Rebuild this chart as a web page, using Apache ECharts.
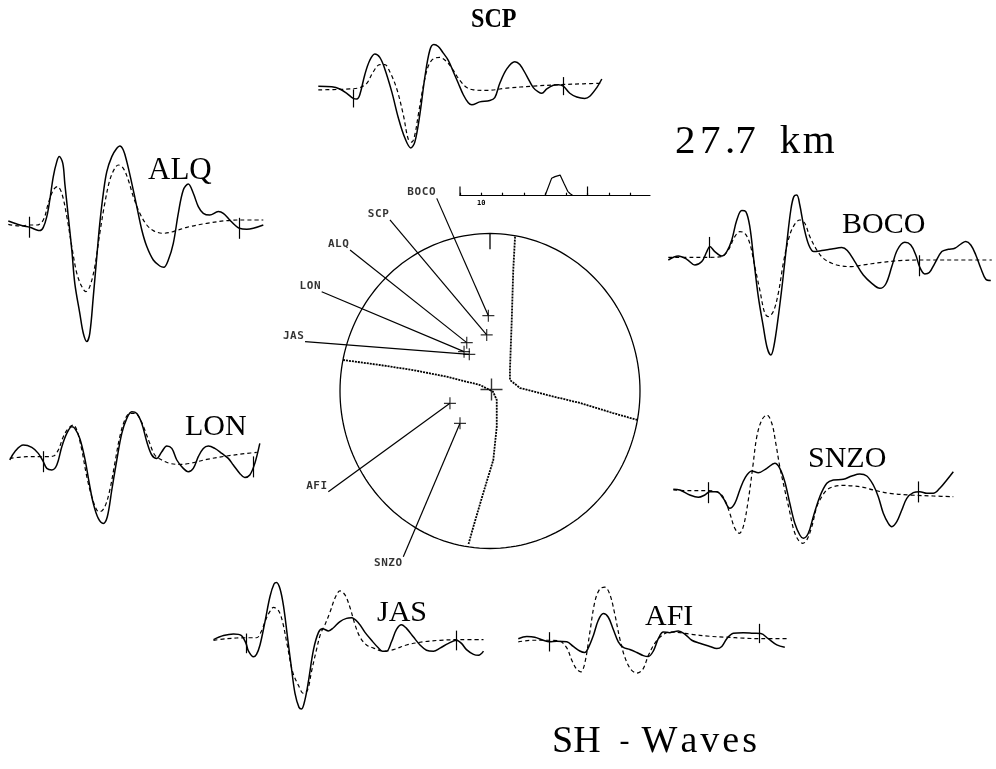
<!DOCTYPE html>
<html>
<head>
<meta charset="utf-8">
<script src="https://cdn.jsdelivr.net/npm/echarts@6/dist/echarts.min.js"></script>
<style>
html,body{margin:0;padding:0;background:#fff}
#chart{width:996px;height:769px}
</style>
</head>
<body>
<div id="chart"></div>
<script>
// ---- Station order ----
const stations = ['SCP', 'ALQ', 'BOCO', 'LON', 'SNZO', 'JAS', 'AFI'];

// ---- SH seismograms: [time (s), relative displacement]; obs = recorded, syn = synthetic ----
const obsSCP = [[-7,0],[-4.3,-0.07],[-2.7,-0.33],[-1.3,-0.83],[0,-1.43],[0.7,-1.5],[1.3,-1],[2.3,1.33],[3.3,3],[4.3,3.73],[5.3,3.33],[6.3,2],[7.7,-0.67],[9,-3.67],[10.3,-6],[11.5,-7.17],[12.3,-6.5],[13.3,-3.33],[14.3,1],[15.3,4.17],[16.1,4.83],[17,4.6],[18,3.83],[19,3],[20,1.67],[21,0.33],[22,-1],[23,-1.93],[23.7,-2.17],[25.3,-1.83],[27.3,-1.67],[28.3,-1.33],[29.3,0.33],[30.7,2],[32.3,2.83],[33.3,2.5],[34.7,1.17],[36,-0.17],[37,-0.67],[37.7,-0.83],[38.7,-0.33],[40,0.1],[41,0.17],[42,0],[43.3,-0.83],[44.7,-1.27],[46.3,-1.43],[47.3,-1.17],[48.7,-0.17],[49.7,0.83]];
const synSCP = [[-7,-0.43],[-4,-0.4],[-0.7,-0.33],[1.3,-0.17],[2.7,0.33],[4,1.67],[5.3,2.5],[6.3,2.5],[7.3,1.67],[8.7,-0.33],[10,-3.33],[11,-6.17],[11.7,-6.5],[12.3,-5.67],[13,-3.33],[14,0],[15,2.33],[16,3.17],[17.3,3.33],[18.7,2.83],[20,1.83],[21.3,0.67],[22.7,-0.17],[24,-0.43],[26.7,-0.5],[30.7,-0.23],[36,0],[41.3,0.17],[46,0.27],[49.7,0.33]];

const obsALQ = [[-4.2,0.23],[-2.5,-0.07],[-1.2,-0.27],[0.1,-0.4],[1.5,-0.67],[2.1,-0.73],[2.8,-0.4],[3.5,0.67],[4.1,2.33],[4.8,4.67],[5.5,6.17],[6,6.67],[6.7,6],[7.1,4],[7.8,0.67],[8.5,-2.67],[9.1,-6],[10.1,-9],[10.8,-11],[11.5,-11.83],[12.1,-11],[12.8,-7.33],[13.5,-3.33],[14.1,0],[14.8,3],[15.5,5.17],[16.5,6.67],[17.5,7.5],[18.1,7.73],[18.8,7.33],[19.5,6.17],[20.5,4],[21.5,1.67],[22.5,-0.67],[23.5,-2.33],[24.8,-3.67],[26.1,-4.27],[26.9,-4.4],[27.8,-3.67],[28.8,-2],[29.8,1],[30.8,3.33],[31.8,3.93],[32.8,3],[33.8,1.67],[34.8,1],[36.1,0.83],[37.8,1.17],[38.8,1],[40.1,0.33],[41.1,-0.17],[42,-0.5],[43.5,-0.6],[44.8,-0.5],[46.8,-0.17]];
const synALQ = [[-4.2,-0.1],[-1.9,-0.27],[0,-0.17],[1.5,-0.17],[2.8,0.33],[3.8,2],[4.8,3.33],[5.6,3.67],[6.5,3],[7.5,0.67],[8.5,-2.33],[9.5,-5],[10.5,-6.33],[11.3,-6.83],[12.1,-6.33],[13.1,-4.33],[14.1,-1],[15.1,2],[16.1,4.33],[17.1,5.5],[17.8,5.83],[18.8,5.5],[19.8,4.33],[20.8,2.67],[22.1,1],[23.5,-0.17],[24.8,-0.73],[26.8,-1],[28.8,-0.83],[31.5,-0.4],[35.5,0],[39.5,0.27],[42.1,0.33],[46.8,0.33]];

const obsBOCO = [[-8.2,-0.27],[-6.2,0.13],[-4.5,-0.2],[-2.9,-0.77],[-1.5,-0.43],[-0.5,0.57],[0.1,1.07],[1.1,0.57],[2.5,0.13],[3.5,0.57],[4.5,1.73],[5.5,3.73],[6.5,4.67],[7.3,4.57],[8.1,3.07],[8.9,-0.27],[9.8,-3.93],[10.8,-6.93],[11.6,-9.1],[12.3,-9.77],[12.9,-8.93],[13.8,-5.93],[14.7,-2.27],[15.5,1.4],[16.3,4.73],[16.9,6.07],[17.5,6.23],[18.1,5.23],[18.9,3.07],[19.9,1.23],[20.9,0.57],[22.5,0.67],[24.5,0.83],[26.5,0.97],[27.6,0.67],[29.1,-0.43],[30.8,-1.77],[32.5,-2.6],[34.1,-3.1],[35.3,-2.67],[36.5,-0.93],[37.6,0.73],[39.1,1.5],[40.3,1.23],[41.3,0.23],[42.1,-1],[43.1,-1.67],[44,-1.53],[45.1,-0.6],[46.5,0.57],[47.8,0.8],[49.1,0.9],[50.5,1.4],[51.3,1.57],[52.3,1.23],[53.3,0.23],[54.3,-1.1],[55.3,-2.2],[56.3,-2.33]];
const synBOCO = [[-8.2,0],[-3.2,0],[0.1,0],[2.5,0.07],[3.8,0.73],[5.1,2.07],[6.1,2.57],[7.1,2.4],[8.1,1.4],[9.1,-0.93],[10.1,-3.27],[11.1,-5.6],[11.8,-5.93],[12.8,-5.43],[13.8,-3.6],[14.8,-0.6],[15.8,1.73],[16.8,3.07],[18.1,3.73],[19.1,3.4],[20.1,2.07],[21.5,0.73],[22.8,-0.1],[24.5,-0.6],[26.5,-0.87],[28.5,-0.93],[30.8,-0.77],[34.1,-0.53],[38.1,-0.33],[42.1,-0.27],[46.8,-0.27],[56.5,-0.27]];

const obsLON = [[-6.7,-0.33],[-5.7,0.5],[-4,1.17],[-2.3,0.93],[-1,0.33],[0,-0.5],[0.7,-1.17],[1.7,-1.33],[2.7,-0.83],[3.7,1],[4.7,2.33],[5.7,3],[6.3,2.83],[7.3,1.83],[8.3,-0.17],[9.2,-2.67],[10,-4.67],[11,-6.17],[12,-6.67],[12.8,-6],[13.7,-3.33],[14.7,-0.33],[15.7,2.33],[16.7,3.83],[17.7,4.5],[18.7,4.33],[19.7,3.33],[20.7,1.5],[21.7,0.17],[22.7,-0.17],[23.7,0.5],[24.7,1.07],[25.7,0.83],[26.7,-0.33],[28,-1.17],[29,-1.5],[30,-1.17],[31,0],[32,0.83],[33,1.07],[34.3,0.83],[35.7,0.33],[37,-0.17],[38,-0.83],[39.3,-1.67],[40.3,-2.07],[41.3,-1.83],[42.3,-0.67],[43.3,1.33]];
const synLON = [[-6.7,-0.17],[-3.3,0],[0,0],[2,0.07],[3,0.67],[4,2],[5,2.83],[6,3.17],[6.7,2.67],[7.7,0.67],[8.7,-2],[9.7,-4],[10.7,-5.33],[11.3,-5.5],[12.3,-5],[13.3,-3.33],[14.3,-0.67],[15.3,2],[16.3,3.67],[17.3,4.33],[18.3,4.33],[19.3,3.83],[20.3,2.67],[21.3,1.33],[22.3,0.17],[23.7,-0.33],[25.3,-0.67],[27.3,-0.77],[29.3,-0.67],[32.7,-0.27],[36.7,0.07],[40.7,0.33],[42.7,0.43]];

const obsSNZO = [[-7,0.07],[-5.7,0],[-3.7,-0.5],[-2,-0.73],[-0.7,-0.5],[0.3,-0.17],[1.7,-0.17],[3,-0.83],[4.3,-1.83],[5.3,-1.33],[6.3,0],[7.3,1.17],[8.7,1.9],[10,1.73],[11.7,2.17],[13.3,2.67],[14.3,2.17],[15.3,0.83],[16.3,-1.33],[17.3,-3.33],[18.3,-4.5],[19,-4.83],[20,-4.33],[21,-2.67],[22.3,-0.67],[23.7,0.67],[25,1],[27,1.07],[28.7,1.4],[30.3,1.6],[31.7,1.4],[33,0.5],[34,-0.67],[35,-2.33],[36,-3.33],[36.7,-3.67],[37.7,-3.17],[38.7,-2],[39.7,-0.83],[41,-0.27],[42.3,-0.17],[43.7,-0.33],[45,-0.33],[46.3,0.17],[47.7,1],[49,1.83]];
const synSNZO = [[-7,0],[-3.7,-0.07],[0,-0.07],[2.3,-0.33],[3.3,-1],[4.3,-2.33],[5.3,-3.83],[6.2,-4.33],[7,-3.67],[8,-1],[8.9,2.33],[9.7,5.33],[10.7,7],[11.7,7.5],[12.7,6.67],[13.5,4.67],[14.3,2.33],[15.3,0],[16.2,-2],[17.1,-4],[18,-5],[18.9,-5.33],[19.7,-5],[20.7,-3.67],[21.7,-1.67],[22.7,-0.67],[23.7,0],[25,0.33],[27,0.47],[29,0.4],[31,0.27],[33,0],[36.3,-0.33],[40.3,-0.5],[45,-0.6],[49,-0.67]];

const obsJAS = [[-6.5,-0.2],[-4.5,0.23],[-2.5,0.4],[-0.9,0.23],[0,-0.6],[0.5,-1.43],[1.5,-2.03],[2.1,-1.77],[2.8,-0.77],[3.8,1.73],[4.8,4.4],[5.6,5.73],[6.1,5.9],[6.8,5.23],[7.5,3.4],[8.3,0.07],[9.1,-3.27],[9.8,-5.93],[10.6,-7.43],[11.1,-7.6],[11.8,-6.6],[12.5,-4.6],[13.5,-1.27],[14.5,0.57],[15.3,0.97],[16.5,0.73],[17.5,1.07],[18.8,1.73],[20.1,2.07],[21.1,2.13],[22.5,1.57],[23.8,0.57],[25.1,-0.27],[26.5,-1.1],[27.3,-1.43],[28.1,-1.43],[29.1,-0.43],[30.1,0.9],[31.1,1.4],[32.1,1],[33.5,0.07],[34.8,-0.77],[36.1,-1.33],[37.5,-1.43],[38.8,-1.1],[40.5,-0.6],[42.1,-0.27],[43.1,-0.6],[44.1,-1.27],[45.5,-1.77],[46.5,-1.87],[47.5,-1.43]];
const synJAS = [[-6.5,-0.27],[-3.9,-0.1],[0,0],[2.1,0],[3.1,0.73],[3.8,1.73],[4.7,2.73],[5.5,3.23],[6.5,2.9],[7.3,1.73],[8.3,-0.93],[9.3,-3.6],[10.5,-5.1],[11.5,-5.93],[12.3,-5.6],[13.1,-3.6],[14.1,-1.27],[14.9,0.4],[15.8,1.4],[16.8,2.73],[17.8,4.23],[18.8,5],[19.8,4.57],[20.8,3.23],[21.8,1.4],[22.8,0.07],[24.1,-0.77],[25.5,-1.1],[27.5,-1.43],[29.5,-1.27],[32.1,-0.77],[35.5,-0.43],[38.8,-0.27],[42.8,-0.2],[47.5,-0.2]];

const obsAFI = [[-6.2,0.17],[-4.5,0.4],[-2.9,0.33],[-1.2,0],[0,-0.17],[1.5,-0.1],[3.5,-0.17],[4.8,-0.67],[6.1,-1.17],[7.1,-1.33],[7.8,-0.83],[8.8,0.5],[9.8,2.17],[10.8,2.9],[11.8,2.5],[12.8,1.17],[13.8,-0.17],[14.8,-0.77],[16.1,-1],[17.5,-1.33],[18.8,-1.67],[19.8,-1.77],[20.8,-1.17],[21.8,0.17],[22.8,0.9],[24.1,0.83],[25.8,1],[27.1,0.67],[28.5,0],[30.1,-0.33],[32.1,-0.67],[33.5,-0.9],[34.5,-0.67],[35.5,0.17],[36.8,0.77],[38.8,0.83],[40.8,0.77],[42.3,0.73],[43.8,0.17],[45.5,-0.5],[47.1,-0.77]];
const synAFI = [[-6.2,-0.17],[-3.2,0],[0,0],[2.1,-0.1],[3.5,-0.83],[4.5,-2.17],[5.5,-3.17],[6.3,-3.43],[7.1,-2.5],[8.1,0.83],[9.1,4.17],[10.1,5.57],[11.1,5.77],[12.1,5],[13.1,2.83],[14.1,0.17],[15.1,-1.83],[16.3,-3.17],[17.5,-3.57],[18.7,-3.17],[19.8,-1.67],[21.1,-0.33],[22.5,0.5],[24.1,0.9],[26.1,0.83],[28.1,0.67],[32.1,0.43],[35.5,0.33],[38.8,0.23],[42.3,0.17],[47.5,0.17]];

const observed = [obsSCP, obsALQ, obsBOCO, obsLON, obsSNZO, obsJAS, obsAFI];
const synthetic = [synSCP, synALQ, synBOCO, synLON, synSNZO, synJAS, synAFI];

// start and end of the modelled window (s)
const windowMarks = [0, 42];

// ---- Focal sphere (lower hemisphere, unit radius) ----
const nodalPlane1 = [[0.167,0.98],[0.155,0.768],[0.145,0.451],[0.133,0.133],[0.133,0.07],[0.2,0.019],[0.378,-0.025],[0.6,-0.076],[0.82,-0.14],[0.983,-0.184]];
const nodalPlane2 = [[-0.98,0.197],[-0.733,0.165],[-0.513,0.133],[-0.289,0.091],[-0.067,0.038],[0.02,-0.004],[0.045,-0.057],[0.045,-0.227],[0.022,-0.438],[-0.045,-0.648],[-0.111,-0.862],[-0.145,-0.978]];
const stationX = [-0.022, -0.155, -0.011, -0.173, -0.2, -0.138, -0.267];
const stationY = [0.356, 0.307, 0.478, 0.25, -0.205, 0.233, -0.078];

// ---- Source time function ----
const stfTime = [40, 43.1, 44.7, 47.1, 47.4, 48.9, 50.7, 52.0, 52.9];
const stfAmp = [0, 0.8, 0.88, 0.95, 1.0, 0.57, 0.2, 0.08, 0.03];
const stfTicks = [0, 10, 20, 30, 40, 50, 60, 70, 80];
const stfLabels = [10];
const stfMajor = [0, 60];

// ---- Layout (pixels) ----
const PX_PER_SEC = 5, PX_PER_AMP = 10, AMP_MIN = -14, AMP_MAX = 10;
// x of t = 0, baseline y, name label [x, y, font size, weight, horizontal scale]
const traceLayout = [
  { x0: 353.3, base: 66.7,  label: [471, 19.5, 28, 'bold', 0.86] },
  { x0: 29.3,  base: 223.3, label: [148, 171, 31, 'normal', 1] },
  { x0: 709.3, base: 257.3, label: [842, 225, 30, 'normal', 1] },
  { x0: 43.3,  base: 456.7, label: [185, 427, 30, 'normal', 1] },
  { x0: 708.3, base: 490,   label: [808, 459, 30, 'normal', 1] },
  { x0: 246,   base: 644,   label: [377, 613, 30, 'normal', 1] },
  { x0: 549.3, base: 648.3, label: [645, 617, 30, 'normal', 1] }
];
const sphereCenter = [490, 391], sphereRadius = [150, 157.5];
const sphereRange = { xMin: -1.4, xMax: 1.2, yMin: -1.2, yMax: 1.4 };
// station-name anchors on the sphere plot (sphere units) and text placement
const nameAnchors = [[-0.667,1.086],[-0.933,0.895],[-0.355,1.223],[-1.122,0.63],[-0.578,-1.052],[-1.233,0.313],[-1.078,-0.639]];
const nameVAlign = ['bottom','bottom','bottom','bottom','top','bottom','bottom'];
const stfBox = { left: 460, width: 190, base: 195.7, pxPerAmp: 21.7, xMax: 89.4 };

const SERIF = '"Liberation Serif","Times New Roman",serif';
const MONO = '"DejaVu Sans Mono",monospace';

function valueAt(trace, t) {
  for (let i = 1; i < trace.length; i++) {
    const a = trace[i - 1], b = trace[i];
    if (t >= a[0] && t <= b[0]) {
      const f = b[0] === a[0] ? 0 : (t - a[0]) / (b[0] - a[0]);
      return a[1] + f * (b[1] - a[1]);
    }
  }
  return 0;
}

function spaced(str, style) {
  return str.split('').map(c => '{' + style + '|' + c + '}').join('');
}

const grids = [], xAxes = [], yAxes = [], series = [];

stations.forEach((name, i) => {
  const obs = observed[i], syn = synthetic[i], L = traceLayout[i];
  const tMin = Math.min(obs[0][0], syn[0][0]);
  const tMax = Math.max(obs[obs.length - 1][0], syn[syn.length - 1][0]);
  grids.push({
    left: L.x0 + tMin * PX_PER_SEC,
    width: (tMax - tMin) * PX_PER_SEC,
    top: L.base - AMP_MAX * PX_PER_AMP,
    height: (AMP_MAX - AMP_MIN) * PX_PER_AMP
  });
  xAxes.push({ gridIndex: i, type: 'value', min: tMin, max: tMax, show: false });
  yAxes.push({ gridIndex: i, type: 'value', min: AMP_MIN, max: AMP_MAX, show: false });
  series.push({
    name: name + ' observed', type: 'line', xAxisIndex: i, yAxisIndex: i,
    data: obs, smooth: 0.35, symbol: 'none', clip: false,
    lineStyle: { color: '#000', width: 1.5 },
    markLine: {
      silent: true, symbol: 'none', label: { show: false },
      lineStyle: { color: '#000', width: 1.2, type: 'solid' },
      data: windowMarks.map(t => {
        const c = valueAt(obs, t);
        return [{ coord: [t, c - 1.05] }, { coord: [t, c + 1.05] }];
      })
    }
  });
  series.push({
    name: name + ' synthetic', type: 'line', xAxisIndex: i, yAxisIndex: i,
    data: syn, smooth: 0.35, symbol: 'none', clip: false,
    lineStyle: { color: '#000', width: 1.2, type: [4, 3] }
  });
});

// focal sphere
const SG = stations.length;
grids.push({
  left: sphereCenter[0] + sphereRange.xMin * sphereRadius[0],
  width: (sphereRange.xMax - sphereRange.xMin) * sphereRadius[0],
  top: sphereCenter[1] - sphereRange.yMax * sphereRadius[1],
  height: (sphereRange.yMax - sphereRange.yMin) * sphereRadius[1]
});
xAxes.push({ gridIndex: SG, type: 'value', min: sphereRange.xMin, max: sphereRange.xMax, show: false });
yAxes.push({ gridIndex: SG, type: 'value', min: sphereRange.yMin, max: sphereRange.yMax, show: false });

const rim = [];
for (let d = 0; d <= 360; d += 2) {
  const r = d * Math.PI / 180;
  rim.push([Math.sin(r), Math.cos(r)]);
}
const sphereLine = (data, style) => ({
  type: 'line', xAxisIndex: SG, yAxisIndex: SG, data, symbol: 'none', smooth: false,
  lineStyle: Object.assign({ color: '#000', width: 1.2 }, style), silent: true
});
series.push(sphereLine(rim, { width: 1.3 }));
series.push(sphereLine([[0, 1], [0, 0.9]], { width: 1.3 }));
series.push(sphereLine(nodalPlane1, { width: 1.8, type: [2, 1] }));
series.push(sphereLine(nodalPlane2, { width: 1.8, type: [2, 1] }));
stations.forEach((name, i) => {
  series.push(sphereLine([nameAnchors[i], [stationX[i], stationY[i]]], { width: 1.2 }));
});
const crossPath = 'path://M5,0L5,10M0,5L10,5';
series.push({
  type: 'scatter', xAxisIndex: SG, yAxisIndex: SG, silent: true,
  data: stations.map((n, i) => [stationX[i], stationY[i]]),
  symbol: crossPath, symbolSize: 12,
  itemStyle: { color: 'none', borderColor: '#000', borderWidth: 1.2 }
});
series.push({
  type: 'scatter', xAxisIndex: SG, yAxisIndex: SG, silent: true,
  data: [[0.01, 0.01]], symbol: crossPath, symbolSize: 22,
  itemStyle: { color: 'none', borderColor: '#000', borderWidth: 1.4 }
});
series.push({
  type: 'scatter', xAxisIndex: SG, yAxisIndex: SG, silent: true,
  symbolSize: 1, itemStyle: { color: 'rgba(0,0,0,0)' },
  data: stations.map((n, i) => ({
    value: nameAnchors[i],
    label: {
      show: true, position: [0, nameVAlign[i] === 'top' ? 1 : 0],
      align: 'right', verticalAlign: nameVAlign[i],
      formatter: spaced(n, 'c'),
      rich: { c: { fontFamily: MONO, fontWeight: 'bold', fontSize: 11, color: '#000', padding: [0, 0.6, 0, 0] } }
    }
  }))
});

// source time function
const TG = SG + 1;
grids.push({
  left: stfBox.left, width: stfBox.width,
  top: stfBox.base - 1.1 * stfBox.pxPerAmp, height: 1.1 * stfBox.pxPerAmp
});
xAxes.push({
  gridIndex: TG, type: 'value', min: 0, max: stfBox.xMax,
  axisLine: { show: true, onZero: false, lineStyle: { color: '#000', width: 1.2 } },
  axisTick: { show: true, inside: true, length: 3, customValues: stfTicks, lineStyle: { color: '#000', width: 1.2 } },
  axisLabel: { show: true, customValues: stfLabels, margin: 4, fontFamily: MONO, fontWeight: 'bold', fontSize: 7, color: '#000' },
  splitLine: { show: false }
});
yAxes.push({ gridIndex: TG, type: 'value', min: 0, max: 1.1, show: false });
series.push({
  type: 'line', xAxisIndex: TG, yAxisIndex: TG, silent: true, symbol: 'none',
  data: stfTime.map((t, i) => [t, stfAmp[i]]),
  lineStyle: { color: '#000', width: 1.2 }
});
stfMajor.forEach(t => {
  series.push({
    type: 'line', xAxisIndex: TG, yAxisIndex: TG, silent: true, symbol: 'none',
    data: [[t, 0], [t, 0.42]], lineStyle: { color: '#000', width: 1.2 }
  });
});

// text
const graphic = stations.map((n, i) => ({
  type: 'text', x: traceLayout[i].label[0], y: traceLayout[i].label[1], silent: true,
  scaleX: traceLayout[i].label[4],
  style: {
    text: n, fill: '#000',
    font: traceLayout[i].label[3] + ' ' + traceLayout[i].label[2] + 'px ' + SERIF,
    textAlign: 'left', textVerticalAlign: 'middle', align: 'left', verticalAlign: 'middle'
  }
}));
graphic.push({
  type: 'text', x: 675, y: 142.5, silent: true,
  style: {
    text: '{a|2}{a|7}{b|.}{b|7}{g| }{c|k}{b|m}', fill: '#000',
    textAlign: 'left', textVerticalAlign: 'middle', align: 'left', verticalAlign: 'middle',
    rich: {
      a: { fontFamily: SERIF, fontSize: 41, padding: [0, 4.5, 0, 0] },
      b: { fontFamily: SERIF, fontSize: 41 },
      c: { fontFamily: SERIF, fontSize: 41, padding: [0, 2.5, 0, 0] },
      g: { fontFamily: SERIF, fontSize: 41, width: 24 }
    }
  }
});
graphic.push({
  type: 'text', x: 552, y: 742.5, silent: true,
  style: {
    text: '{t|S}{t|H}{g1| }{d|-}{g2| }{w|W}{w|a}{w|v}{w|e}{t|s}', fill: '#000',
    textAlign: 'left', textVerticalAlign: 'middle', align: 'left', verticalAlign: 'middle',
    rich: {
      t: { fontFamily: SERIF, fontSize: 38 },
      d: { fontFamily: SERIF, fontSize: 30 },
      w: { fontFamily: SERIF, fontSize: 38, padding: [0, 3, 0, 0] },
      g1: { fontFamily: SERIF, fontSize: 38, width: 19 },
      g2: { fontFamily: SERIF, fontSize: 38, width: 12 }
    }
  }
});

const chart = echarts.init(document.getElementById('chart'), null, { renderer: 'canvas' });
chart.setOption({
  backgroundColor: '#fff',
  animation: false,
  grid: grids, xAxis: xAxes, yAxis: yAxes,
  series, graphic
});
</script>
</body>
</html>
